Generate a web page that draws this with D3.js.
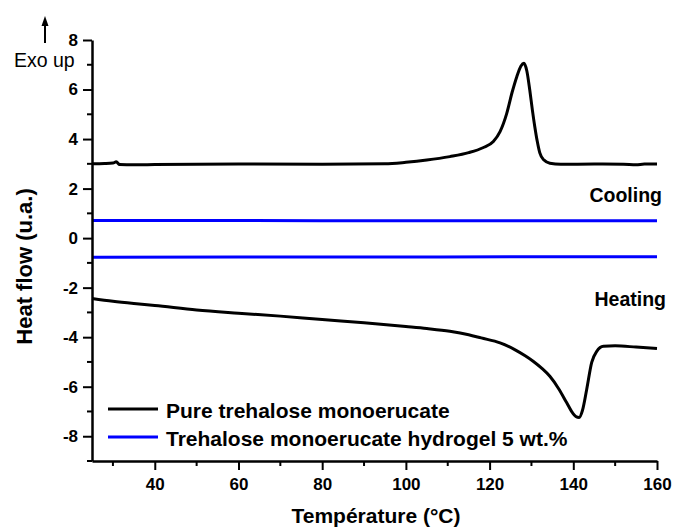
<!DOCTYPE html>
<html>
<head>
<meta charset="utf-8">
<script src="https://cdn.jsdelivr.net/npm/d3@7"></script>
<style>
  body { margin: 0; background: #fff; }
  text { font-family: Arial, "Liberation Sans", sans-serif; }
</style>
</head>
<body>
<script>
// cooling run, pure monoerucate (black, upper)
var coolingPure = [
  [25, 3.0], [28, 3.01], [30, 3.03], [30.8, 3.08], [31.6, 2.97], [35, 2.96], [40, 2.97],
  [60, 2.99], [80, 2.98], [95, 3.0], [100, 3.06], [105, 3.15], [110.5, 3.29],
  [115, 3.45], [118.4, 3.65], [120.9, 3.9], [122.5, 4.3], [124.1, 5.04], [125.4, 5.9],
  [126.5, 6.52], [127.5, 6.95], [128.2, 7.06], [128.9, 6.75], [129.6, 5.98],
  [130.2, 5.2], [130.8, 4.5], [131.4, 3.9], [132, 3.44], [133, 3.15], [134.4, 3.02],
  [137, 2.98], [145, 2.99], [152, 2.98], [155, 2.96], [157, 2.99], [160, 2.99]
];
// heating run, pure monoerucate (black, lower)
var heatingPure = [
  [25, -2.44], [30, -2.55], [35, -2.64], [40, -2.72], [50, -2.9], [60, -3.03],
  [70, -3.15], [80, -3.29], [90, -3.42], [100, -3.57], [105, -3.65], [110.5, -3.76],
  [115, -3.9], [118, -4.03], [122.5, -4.23], [126, -4.5], [128.5, -4.75], [130.4, -4.97],
  [132.5, -5.26], [134.4, -5.58], [136.5, -6.08], [138.4, -6.64], [139.8, -7.05],
  [140.6, -7.2], [141.4, -7.24], [142.2, -6.95], [143.2, -6.11], [144.4, -5.02],
  [145.6, -4.57], [147.2, -4.37], [150, -4.35], [155, -4.4], [160, -4.46]
];
// hydrogel 5 wt.% (blue)
var coolingGel = [[25, 0.71], [60, 0.71], [100, 0.7], [130, 0.7], [160, 0.7]];
var heatingGel = [[25, -0.77], [60, -0.76], [100, -0.76], [130, -0.75], [160, -0.75]];

var xTicks = [40, 60, 80, 100, 120, 140, 160];
var xMinor = [30, 50, 70, 90, 110, 130, 150];
var yTicks = [-8, -6, -4, -2, 0, 2, 4, 6, 8];
var yMinor = [-9, -7, -5, -3, -1, 1, 3, 5, 7];
var legendLabels = ["Pure trehalose monoerucate", "Trehalose monoerucate hydrogel 5 wt.%"];
var seriesColors = ["#000000", "#0000ff"];

var width = 675, height = 527;
var margin = {left: 92, right: 18, top: 40, bottom: 66};

var svg = d3.select("body").append("svg")
  .attr("width", width)
  .attr("height", height);

var x = d3.scaleLinear().domain([25, 160]).range([margin.left, width - margin.right]);
var y = d3.scaleLinear().domain([-9, 8]).range([height - margin.bottom, margin.top]);

var line = d3.line()
  .x(function(d) { return x(d[0]); })
  .y(function(d) { return y(d[1]); })
  .curve(d3.curveMonotoneX);

// curves
[[coolingGel, 1], [heatingGel, 1], [coolingPure, 0], [heatingPure, 0]].forEach(function(s) {
  svg.append("path")
    .datum(s[0])
    .attr("d", line)
    .attr("fill", "none")
    .attr("stroke", seriesColors[s[1]])
    .attr("stroke-width", 3)
    .attr("stroke-linejoin", "round");
});

// axes (plain hyphen for negatives, like the original)
var fmt = function(d) { return String(d); };

var xAxis = svg.append("g")
  .attr("transform", "translate(0," + y(-9) + ")")
  .call(d3.axisBottom(x).tickValues(xTicks).tickFormat(fmt)
    .tickSize(9).tickSizeOuter(0).tickPadding(8));
xAxis.selectAll(".minor").data(xMinor).enter().append("line")
  .attr("x1", function(d) { return x(d); }).attr("x2", function(d) { return x(d); })
  .attr("y1", 0).attr("y2", 5).attr("stroke", "#000").attr("stroke-width", 2);

var yAxis = svg.append("g")
  .attr("transform", "translate(" + x(25) + ",0)")
  .call(d3.axisLeft(y).tickValues(yTicks).tickFormat(fmt)
    .tickSize(9).tickSizeOuter(0).tickPadding(5));
yAxis.selectAll(".minor").data(yMinor).enter().append("line")
  .attr("x1", 0).attr("x2", -5)
  .attr("y1", function(d) { return y(d); }).attr("y2", function(d) { return y(d); })
  .attr("stroke", "#000").attr("stroke-width", 2);

[xAxis, yAxis].forEach(function(g) {
  g.attr("font-size", null).attr("font-family", null);
  g.select(".domain").attr("stroke-width", 2.5);
  g.selectAll(".tick line").attr("stroke-width", 2);
  g.selectAll(".tick text")
    .style("font-size", "17px")
    .style("font-weight", "bold");
});

// axis titles
svg.append("text")
  .attr("x", 376).attr("y", 523)
  .attr("text-anchor", "middle")
  .style("font-size", "21px").style("font-weight", "bold")
  .text("Température (°C)");

svg.append("text")
  .attr("transform", "translate(32,266.5) rotate(-90)")
  .attr("text-anchor", "middle")
  .style("font-size", "22px").style("font-weight", "bold")
  .text("Heat flow (u.a.)");

// Exo up with arrow
svg.append("text")
  .attr("x", 14).attr("y", 67)
  .style("font-size", "19.5px")
  .text("Exo up");
svg.append("line")
  .attr("x1", 45).attr("x2", 45).attr("y1", 43).attr("y2", 24)
  .attr("stroke", "#000").attr("stroke-width", 2);
svg.append("path")
  .attr("d", "M45,16 L41.5,26 L48.5,26 Z")
  .attr("fill", "#000");

// run labels
svg.append("text")
  .attr("x", 662).attr("y", 202)
  .attr("text-anchor", "end")
  .style("font-size", "19.5px").style("font-weight", "bold")
  .text("Cooling");
svg.append("text")
  .attr("x", 666).attr("y", 306)
  .attr("text-anchor", "end")
  .style("font-size", "19.5px").style("font-weight", "bold")
  .text("Heating");

// legend
var legend = svg.append("g");
legendLabels.forEach(function(label, i) {
  var ly = 409 + i * 28;
  legend.append("line")
    .attr("x1", 108).attr("x2", 158).attr("y1", ly).attr("y2", ly)
    .attr("stroke", seriesColors[i]).attr("stroke-width", 3);
  legend.append("text")
    .attr("x", 166).attr("y", ly + 9)
    .style("font-size", "21px").style("font-weight", "bold")
    .text(label);
});
</script>
</body>
</html>
